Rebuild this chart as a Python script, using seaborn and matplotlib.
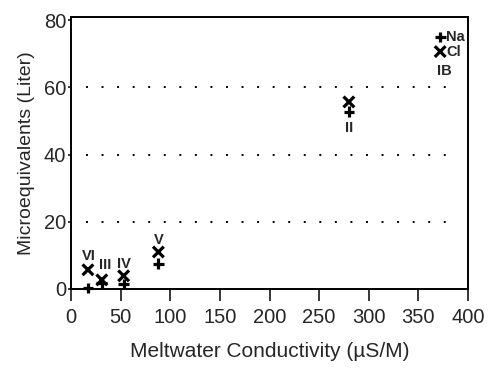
import pandas as pd
import matplotlib
matplotlib.use('Agg')
import matplotlib.pyplot as plt
import seaborn as sns

# Data
samples = ['VI', 'III', 'IV', 'V', 'II', 'IB']
conductivity = [17, 31, 53, 88, 280, 372]
na_values = [0.3, 1.8, 1.5, 7.5, 52.8, 75.0]
cl_values = [5.7, 2.7, 3.9, 11.0, 55.7, 70.7]
x_ticks = [0, 50, 100, 150, 200, 250, 300, 350, 400]
y_ticks = [0, 20, 40, 60, 80]
grid_levels = [20, 40, 60]

data = pd.DataFrame({
    'sample': samples * 2,
    'conductivity': conductivity * 2,
    'value': na_values + cl_values,
    'ion': ['Na'] * len(samples) + ['Cl'] * len(samples),
})

sns.set_style("white")
plt.rcParams['font.family'] = ['Liberation Sans', 'DejaVu Sans']

fig = plt.figure(figsize=(4.9, 3.69), dpi=100)
ax = fig.add_axes([0.145, 0.217, 0.81, 0.737])

# dotted reference lines
ax.hlines(grid_levels, 15, 388, colors='black', linewidth=1.4,
          linestyles=(0, (1, 7)))

sns.scatterplot(data=data, x='conductivity', y='value', style='ion',
                markers={'Na': '+', 'Cl': 'x'}, color='black', s=60,
                linewidth=2.3, legend=False, ax=ax, clip_on=False, zorder=3)

# sample labels (placed relative to the upper/lower marker)
label_pos = {'VI': (18, 9.8), 'III': (34, 7.0), 'IV': (53, 7.4),
             'V': (88, 14.6), 'II': (280, 48.0), 'IB': (376, 65.0)}
for name in samples:
    lx, ly = label_pos[name]
    ax.text(lx, ly, name, ha='center', va='center', fontsize=10.5,
            fontweight='bold')

# ion names next to the IB markers
ax.text(conductivity[-1] + 6, na_values[-1], 'Na', ha='left', va='center',
        fontsize=10.5, fontweight='bold')
ax.text(conductivity[-1] + 6, cl_values[-1], 'Cl', ha='left', va='center',
        fontsize=10.5, fontweight='bold')

ax.set_xlim(0, 400)
ax.set_ylim(0, 81)
ax.set_xticks(x_ticks)
ax.set_yticks(y_ticks)
ax.tick_params(axis='x', direction='out', length=8.5, width=1.3, pad=5,
               labelsize=14.5, bottom=True)
ax.tick_params(axis='y', direction='out', length=2.5, width=1.3, pad=1,
               labelsize=14.5, left=True)
for sp in ax.spines.values():
    sp.set_linewidth(1.4)
    sp.set_color('black')

ax.set_xlabel('Meltwater Conductivity (\u00b5S/M)', fontsize=15, labelpad=11)
ax.set_ylabel('Microequivalents (Liter)', fontsize=14, labelpad=6)

plt.savefig('out.png', dpi=100)
